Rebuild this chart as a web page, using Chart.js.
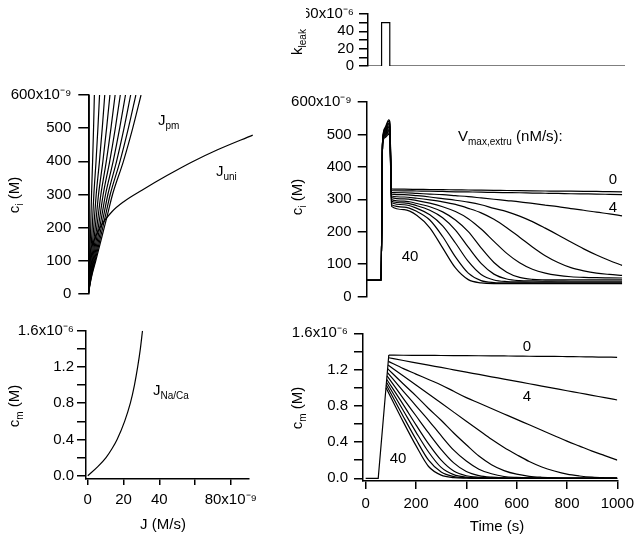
<!DOCTYPE html>
<html><head><meta charset="utf-8">
<script src="https://cdn.jsdelivr.net/npm/chart.js@4.4.0/dist/chart.umd.min.js"></script>
<style>
html,body{margin:0;padding:0;background:#fff;}
#wrap{position:relative;width:640px;height:535px;overflow:hidden;font-family:"Liberation Sans",Arial,sans-serif;color:#000;background:#fff;}
#wrap canvas{position:absolute;left:0;top:0;}
.t{position:absolute;font-size:15px;line-height:1;white-space:nowrap;z-index:5;}
.c{transform:translate(-50%,-50%);}
.l{transform:translate(0,-50%);}
.r{transform:translate(-50%,-50%) rotate(-90deg);}
.t sub{font-size:10px;vertical-align:-4px;line-height:0;}
</style></head>
<body><div id="wrap">
<canvas id="cA" width="640" height="535"></canvas>
<canvas id="cB" width="640" height="535"></canvas>
<canvas id="cC" width="640" height="535"></canvas>
<canvas id="cD" width="640" height="535"></canvas>
<canvas id="cE" width="640" height="535"></canvas>
<div class="t r" style="left:296px;top:42px">k<sub>leak</sub></div>
<div class="t r" style="left:13px;top:195px">c<sub>i</sub> (M)</div>
<div class="t r" style="left:296px;top:197px">c<sub>i</sub> (M)</div>
<div class="t r" style="left:13px;top:406px">c<sub>m</sub> (M)</div>
<div class="t r" style="left:296px;top:408px">c<sub>m</sub> (M)</div>
<div class="t c" style="left:163px;top:523px">J (M/s)</div>
<div class="t c" style="left:497px;top:525px">Time (s)</div>
<div class="t l" style="left:158px;top:119px">J<sub>pm</sub></div>
<div class="t l" style="left:216px;top:170px">J<sub>uni</sub></div>
<div class="t l" style="left:153px;top:389px">J<sub>Na/Ca</sub></div>
<div class="t l" style="left:458px;top:135px">V<sub>max,extru</sub> (nM/s):</div>
<div class="t c" style="left:613px;top:178px">0</div>
<div class="t c" style="left:613px;top:206px">4</div>
<div class="t c" style="left:410px;top:255px">40</div>
<div class="t c" style="left:527px;top:345px">0</div>
<div class="t c" style="left:527px;top:395px">4</div>
<div class="t c" style="left:398px;top:457px">40</div>
</div>
<script>
// ---------------- DATA ----------------
// k_leak (x10^-6) vs time (s)
const kleakTime  = [0, 62, 62, 94, 94, 1012];
const kleakValue = [0, 0, 50, 50, 0, 0];

// V_max,extru values (nM/s) for the families of curves
const vmaxExtru = [0, 4, 8, 12, 16, 20, 24, 28, 32, 36, 40];

// c_i levels (nM) at which J_pm is read (J_pm in nM/s)
const ciLevels = [0, 50, 100, 150, 200, 250, 300, 400, 500, 600];
const jpm_V0  = [0, 0.3, 0.4, 0.45, 0.5, 0.5, 0.5, 0.5, 0.5, 0.5];
const jpm_V4  = [0, 0.45, 0.78, 1.06, 1.34, 1.57, 1.81, 2.41, 2.94, 3.4];
const jpm_V8  = [0, 0.59, 1.15, 1.67, 2.18, 2.65, 3.11, 4.33, 5.37, 6.3];
const jpm_V12 = [0, 0.74, 1.53, 2.28, 3.02, 3.72, 4.42, 6.24, 7.81, 9.2];
const jpm_V16 = [0, 0.88, 1.91, 2.89, 3.86, 4.79, 5.72, 8.16, 10.24, 12.1];
const jpm_V20 = [0, 1.03, 2.29, 3.5, 4.71, 5.87, 7.03, 10.07, 12.68, 15.0];
const jpm_V24 = [0, 1.17, 2.66, 4.1, 5.55, 6.94, 8.33, 11.98, 15.12, 17.9];
const jpm_V28 = [0, 1.32, 3.04, 4.71, 6.39, 8.01, 9.64, 13.9, 17.55, 20.8];
const jpm_V32 = [0, 1.46, 3.42, 5.32, 7.23, 9.08, 10.94, 15.81, 19.99, 23.7];
const jpm_V36 = [0, 1.61, 3.79, 5.93, 8.07, 10.16, 12.25, 17.73, 22.42, 26.6];
const jpm_V40 = [0, 1.75, 4.17, 6.54, 8.91, 11.23, 13.55, 19.64, 24.86, 29.5];

// J_uni (nM/s) vs c_i (nM)
const juniJ = [0, 0.6, 2.4, 6.5, 13.2, 20, 30, 44, 58, 72, 92];
const juniC = [0, 100, 150, 200, 248, 279, 313, 357, 398, 434, 479];

// J_Na/Ca (nM/s) vs c_m (uM)
const jnacaJ = [0, 5.6, 10.2, 13.6, 16.4, 20.6, 23.8, 26.1, 27.9, 29.4, 30.6];
const jnacaC = [0, 0.1, 0.2, 0.3, 0.4, 0.6, 0.8, 1.0, 1.2, 1.4, 1.6];

// c_i (nM) vs time (s)
const ciTime = [0, 60, 66, 75, 90, 94, 101, 150, 200, 250, 300, 350, 400, 450, 500, 550, 600, 650, 700, 750, 800, 850, 900, 950, 1000];
const ci_V0  = [50,50,480,520,545,540,332, 331,330.5,330,329.5,329,328.5,328,327.5,327,326.5,326,325.5,325,324.8,324.5,324,323.5,323];
const ci_V4  = [50,50,480,517,540,535,327, 326,325.5,325,324,323,322.5,322,321,320.5,320,319,318.5,318,317,316.5,316,315,314];
const ci_V8  = [50,50,479,514,535,530,321, 320,318,316,314,311,308,304,300,296,292,287,282,277,271,266,260,255,249];
const ci_V12 = [50,50,478,511,530,525,316, 314,311,307,302,297,291,283,272,262,248,231,211,190,168,147,128,111,96];
const ci_V16 = [50,50,477,508,526,520,310, 307,303,298,292,284,272,258,238,212,183,153,126,105,89,79,72,68,65];
const ci_V20 = [50,50,476,505,522,516,305, 301,296,288,277,262,240,208,170,133,104,84,72,65,61,59,58,57.5,57];
const ci_V24 = [50,50,475,502,517,511,299, 294,287,277,261,236,200,150,105,75,59,53,51.5,51,51,51,51,51,51];
const ci_V28 = [50,50,474,499,513,507,294, 289,280,266,243,205,152,102,69,54,49,48,47.5,47.5,47,47,47,47,47];
const ci_V32 = [50,50,473,496,509,503,289, 283,272,252,218,165,108,68,51,46,45,44.5,44.5,44,44,44,44,44,44];
const ci_V36 = [50,50,472,493,505,499,283, 276,262,236,185,122,72,49,43,42,42,41.5,41.5,41.5,41.5,41.5,41.5,41.5,41.5];
const ci_V40 = [50,50,470,490,500,495,278, 268,250,212,150,88,52,42,40,40,40,40,40,40,40,40,40,40,40];

// c_m (uM) vs time (s): common rise, then decay from each peak
const cmRiseTime  = [0, 50, 92];
const cmRiseValue = [0, 0, 1.36];
const cmPeakTime  = [92, 91, 90, 89, 87, 86, 85, 84, 83, 82, 81];
const cmPeakValue = [1.36, 1.33, 1.29, 1.25, 1.21, 1.17, 1.13, 1.09, 1.06, 1.03, 1.00];
const cmTime = [150, 200, 250, 300, 350, 400, 450, 500, 550, 600, 650, 700, 750, 800, 850, 900, 950, 1000];
const cm_V0  = [1.358,1.357,1.356,1.355,1.354,1.353,1.352,1.351,1.350,1.349,1.347,1.346,1.345,1.343,1.341,1.339,1.337,1.335];
const cm_V4  = [1.300,1.274,1.248,1.223,1.197,1.171,1.146,1.120,1.095,1.069,1.043,1.018,0.992,0.966,0.941,0.915,0.890,0.864];
const cm_V8  = [1.21,1.15,1.09,1.03,0.96,0.89,0.83,0.77,0.71,0.65,0.59,0.53,0.47,0.41,0.355,0.30,0.25,0.20];
const cm_V12 = [1.13,1.03,0.93,0.83,0.73,0.63,0.53,0.43,0.34,0.26,0.185,0.125,0.08,0.045,0.025,0.012,0.006,0.003];
const cm_V16 = [1.04,0.91,0.77,0.64,0.50,0.37,0.245,0.15,0.085,0.045,0.022,0.011,0.005,0.003,0.002,0.001,0,0];
const cm_V20 = [0.96,0.80,0.64,0.47,0.31,0.19,0.10,0.05,0.02,0.009,0.004,0.002,0.001,0,0,0,0,0];
const cm_V24 = [0.88,0.69,0.50,0.32,0.17,0.075,0.03,0.012,0.005,0.002,0.001,0,0,0,0,0,0,0];
const cm_V28 = [0.81,0.59,0.38,0.20,0.08,0.028,0.01,0.004,0.001,0,0,0,0,0,0,0,0,0];
const cm_V32 = [0.745,0.51,0.29,0.12,0.04,0.013,0.004,0.001,0,0,0,0,0,0,0,0,0,0];
const cm_V36 = [0.68,0.43,0.20,0.07,0.02,0.006,0.002,0,0,0,0,0,0,0,0,0,0,0];
const cm_V40 = [0.62,0.36,0.13,0.035,0.008,0.002,0,0,0,0,0,0,0,0,0,0,0,0];

// Tick values / labels
const kleakTicks = [0, 10, 20, 30, 40, 50, 60];
const ciTicks = [0, 100, 200, 300, 400, 500, 600];
const cmTicks = [0, 0.2, 0.4, 0.6, 0.8, 1.0, 1.2, 1.4, 1.6];
const jTicks = [0, 20, 40, 60, 80];
const timeTicks = [0, 200, 400, 600, 800, 1000];

// ---------------- CHARTS ----------------
const FONT = '"Liberation Sans", Arial, sans-serif';
const FSIZE = 15;
Chart.defaults.font.family = FONT;
Chart.defaults.color = '#000';

function axis(pos, min, max, ticks, fmt, size, tickLen, pad) {
  return {
    type: 'linear', position: pos, min: min, max: max,
    afterBuildTicks: s => { s.ticks = ticks.map(v => ({ value: v })); },
    afterFit: s => { if (pos === 'left') s.width = size; else s.height = size; },
    grid: { drawOnChartArea: false, drawTicks: true, tickLength: tickLen, color: '#000', lineWidth: 1.5 },
    border: { display: true, color: '#000', width: 1.5 },
    ticks: { color: '#000', font: { family: FONT, size: FSIZE }, padding: pad, autoSkip: false,
             maxRotation: 0, minRotation: 0, callback: v => fmt(v) }
  };
}
function hiddenX(min, max) { return { type: 'linear', display: false, min: min, max: max }; }
function series(xs, ys, mono) {
  return { data: xs.map((x, i) => ({ x: x, y: ys[i] })), borderColor: '#000', borderWidth: 1.2,
           pointRadius: 0, showLine: true, fill: false, tension: 0,
           cubicInterpolationMode: mono ? 'monotone' : 'default' };
}
function make(id, pad, scales, datasets) {
  return new Chart(document.getElementById(id), {
    type: 'scatter',
    data: { datasets: datasets },
    options: { responsive: false, animation: false, devicePixelRatio: 1, events: [],
      layout: { padding: pad },
      plugins: { legend: { display: false }, tooltip: { enabled: false } },
      scales: scales }
  });
}
const cmFmt = v => {
  const r = Math.round(v * 10);
  if (r === 16) return '1.6x10\u207B\u2076';
  return r % 4 === 0 ? (r / 10).toFixed(1) : '';
};

// Panel A: k_leak
make('cA', { left: 306, right: 15, top: 12.7, bottom: 469 }, {
  x: hiddenX(9, 1012),
  y: axis('left', 0, 60, kleakTicks, v => v === 60 ? '60x10\u207B\u2076' : (v % 20 === 0 ? String(v) : ''), 62, 9, 5)
}, [series(kleakTime, kleakValue, false)]);

// Panel B: c_i vs J
const jpmAll = [jpm_V0, jpm_V4, jpm_V8, jpm_V12, jpm_V16, jpm_V20, jpm_V24, jpm_V28, jpm_V32, jpm_V36, jpm_V40];
make('cB', { left: 8.3, right: 381.9, top: 95, bottom: 241 }, {
  x: hiddenX(0, 95),
  y: axis('left', 0, 600, ciTicks, v => v === 600 ? '600x10\u207B\u2079' : String(v), 80, 10, 7)
}, jpmAll.map((arr, i) => series(arr, ciLevels, i > 0)).concat([series(juniJ, juniC, true)]));

// Panel C: c_i vs time
const ciAll = [ci_V0, ci_V4, ci_V8, ci_V12, ci_V16, ci_V20, ci_V24, ci_V28, ci_V32, ci_V36, ci_V40];
make('cC', { left: 286.7, right: 17.8, top: 102, bottom: 238.5 }, {
  x: hiddenX(4, 1000),
  y: axis('left', 0, 600, ciTicks, v => v === 600 ? '600x10\u207B\u2079' : String(v), 80, 9, 6)
}, ciAll.map(arr => series(ciTime, arr, true)));

// Panel D: c_m vs J
make('cD', { left: 6, right: 391.3, top: 330.7, bottom: 16 }, {
  x: axis('bottom', -1, 90, jTicks, v => v === 80 ? '80x10\u207B\u2079' : (v === 60 ? '' : String(v)), 40, 6, 6),
  y: axis('left', -0.036, 1.6, cmTicks, cmFmt, 80, 9, 3)
}, [series(jnacaJ, jnacaC, true)]);

// Panel E: c_m vs time
const cmAll = [cm_V0, cm_V4, cm_V8, cm_V12, cm_V16, cm_V20, cm_V24, cm_V28, cm_V32, cm_V36, cm_V40];
make('cE', { left: 283, right: 17.8, top: 333.3, bottom: 14 }, {
  x: axis('bottom', -10.5, 1000, timeTicks, v => String(v), 40, 8, 6),
  y: axis('left', -0.03, 1.6, cmTicks, cmFmt, 80, 9, 6)
}, [series(cmRiseTime, cmRiseValue, false)].concat(
   cmAll.map((arr, i) => series([cmPeakTime[i]].concat(cmTime), [cmPeakValue[i]].concat(arr), true))));
</script>
</body></html>
